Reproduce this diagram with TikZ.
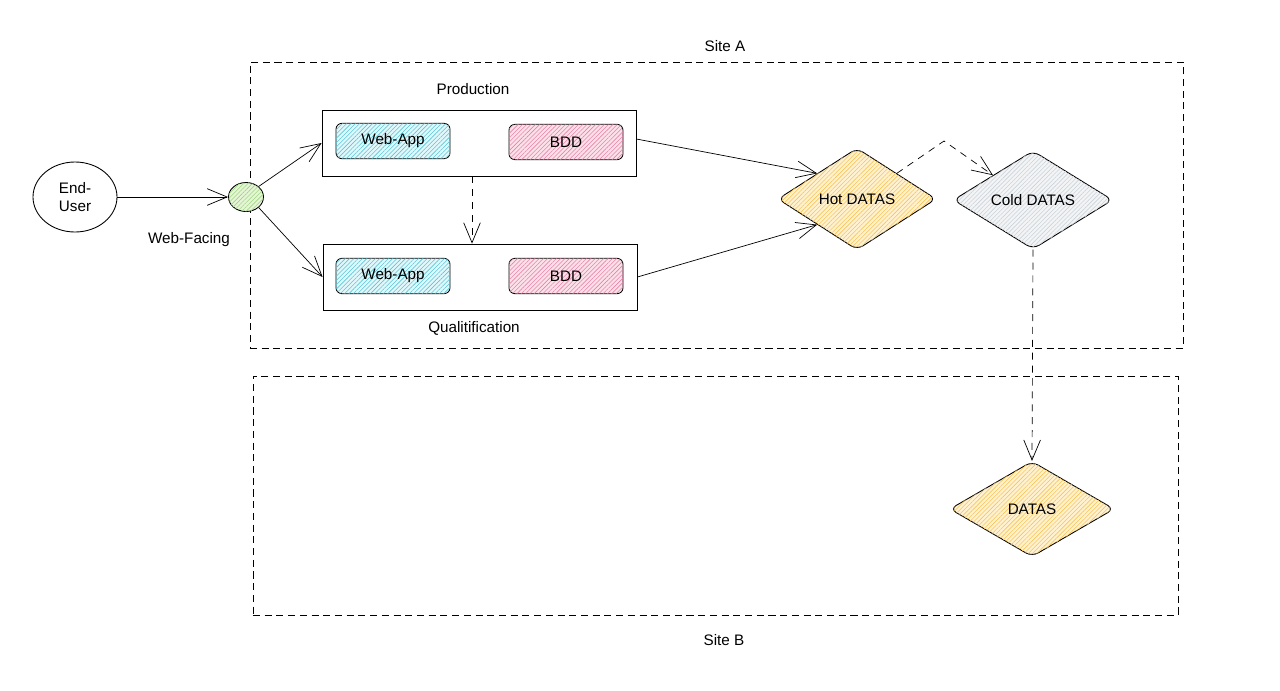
\documentclass[tikz,border=0pt]{standalone}
\usepackage{fontspec}
\setmainfont{Liberation Sans}
\usetikzlibrary{shapes.geometric,arrows.meta,patterns.meta}
\definecolor{cyanbase}{HTML}{E3F7FA}
\definecolor{cyanline}{HTML}{55C8DA}
\definecolor{pinkbase}{HTML}{FBE1EA}
\definecolor{pinkline}{HTML}{EA82A8}
\definecolor{yelbase}{HTML}{FFF2D4}
\definecolor{yelline}{HTML}{FAC450}
\definecolor{graybase}{HTML}{F3F4F6}
\definecolor{grayline}{HTML}{CCD2D8}
\definecolor{grnbase}{HTML}{E6F5D8}
\definecolor{grnline}{HTML}{9ED67F}
\begin{document}
\begin{tikzpicture}[x=0.03cm,y=-0.03cm,
  every node/.style={font=\fontsize{13}{15}\selectfont},
  hatch/.style 2 args={fill=#1, postaction={pattern={Lines[angle=45,distance=2.6pt,line width=0.5pt]}, pattern color=#2}},
  site/.style={draw, dashed, dash pattern=on 6pt off 4pt, line width=0.6pt, inner sep=0pt},
  group/.style={draw, line width=0.7pt, minimum width=9.42cm, minimum height=1.98cm, inner sep=0pt},
  comp/.style={draw, line width=0.7pt, rounded corners=5pt, minimum width=3.42cm, minimum height=1.06cm, inner sep=0pt},
  store/.style={draw, diamond, line width=0.75pt, rounded corners=6pt, inner sep=0pt},
  arr/.style={line width=0.6pt, -{Straight Barb[length=6mm,width=5mm,line width=0.6pt]}},
  darr/.style={arr, dashed, dash pattern=on 6pt off 5pt},
  lbl/.style={inner sep=0pt}
]
\useasboundingbox (0,0) rectangle (1280,690);

% sites
\node[site, minimum width=27.99cm, minimum height=8.58cm] (siteA) at (716.5,205) {};
\node[site, minimum width=27.75cm, minimum height=7.17cm] (siteB) at (715.5,495.5) {};
\node[lbl] (siteAlbl) at (725,46) {Site A};
\node[lbl] (siteBlbl) at (724,640) {Site B};

% user and web facing
\node[draw, ellipse, line width=0.75pt, minimum width=2.52cm, minimum height=2.1cm, inner sep=0pt, align=center, font=\fontsize{13}{16}\selectfont] (user) at (75,197) {End-\\User};
\node[draw, ellipse, line width=0.75pt, hatch={grnbase}{grnline}, minimum width=1.05cm, minimum height=0.87cm, inner sep=0pt] (web) at (246,197) {};
\node[lbl] (weblbl) at (189,240) {Web-Facing};

% groups
\node[group] (prod) at (479,143) {};
\node[lbl] (prodlbl) at (473,89) {Production};
\node[comp, hatch={cyanbase}{cyanline}] (pwa) at (393,141) {Web-App};
\node[comp, hatch={pinkbase}{pinkline}] (pbdd) at (566,142) {BDD};

\node[group] (qual) at (480,277) {};
\node[lbl] (quallbl) at (474,328) {Qualitification};
\node[comp, hatch={cyanbase}{cyanline}] (qwa) at (393,276) {Web-App};
\node[comp, hatch={pinkbase}{pinkline}] (qbdd) at (566,276) {BDD};

% data stores
\node[store, hatch={yelbase}{yelline}, minimum width=4.75cm, minimum height=3.05cm] (hot) at (857,199) {Hot DATAS};
\node[store, hatch={graybase}{grayline}, minimum width=4.78cm, minimum height=2.95cm] (cold) at (1033,200) {Cold DATAS};
\node[store, hatch={yelbase}{yelline}, minimum width=4.93cm, minimum height=2.86cm] (datas) at (1032,509) {DATAS};

% connectors
\draw[arr] (user.east) -- (web.west);
\draw[arr] (web.north east) -- (prod.west);
\draw[arr] (web.south east) -- (qual.west);
\draw[darr] ([xshift=-7*0.03cm]prod.south) -- ([xshift=-8*0.03cm]qual.north);
\draw[arr] ([yshift=4*0.03cm]prod.east) -- (hot.north west);
\draw[arr] (qual.east) -- (hot.south west);
\coordinate (bend) at (944,141);
\draw[darr] (hot.north east) -- (bend) -- (cold.north west);
\draw[darr] (cold.south) -- (datas.north);
\end{tikzpicture}
\end{document}
